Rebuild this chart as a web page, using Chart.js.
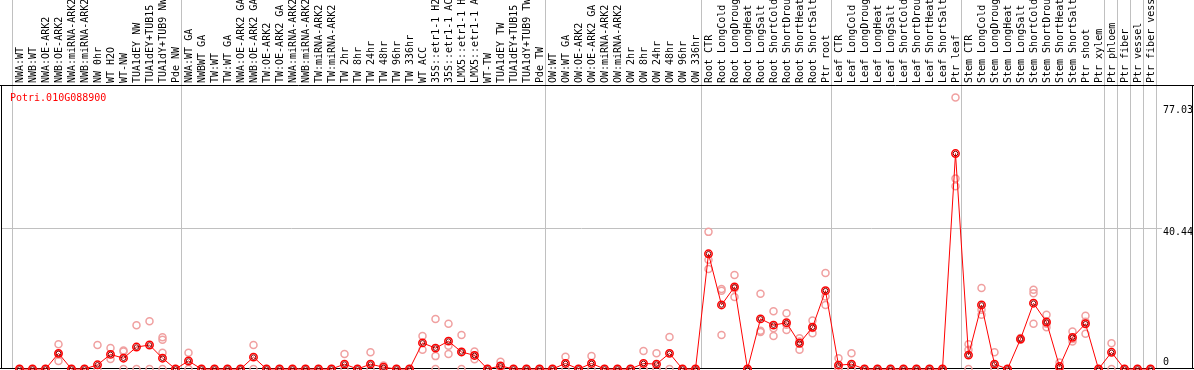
<!DOCTYPE html>
<html>
<head>
<meta charset="utf-8">
<script src="https://cdn.jsdelivr.net/npm/chart.js@4/dist/chart.umd.min.js"></script>
<style>
  html, body { margin: 0; padding: 0; background: #fff; }
</style>
</head>
<body>
<canvas id="myChart" width="1194" height="370"></canvas>
<script>
const geneId = 'Potri.010G088900'

const samples = [
    'NWA:WT', 'NWB:WT', 'NWA:OE-ARK2', 'NWB:OE-ARK2', 'NWA:miRNA-ARK2', 'NWB:miRNA-ARK2',
    'NW 0hr', 'WT H2O', 'WT-NW', 'TUA1dEY NW', 'TUA1dEY+TUB15 NW', 'TUA1dY+TUB9 NW', 'Pde NW',
    'NWA:WT GA', 'NWBWT GA', 'TW:WT', 'TW:WT GA', 'NWA:OE-ARK2 GA', 'NWB:OE-ARK2 GA',
    'TW:OE-ARK2', 'TW:OE-ARK2 GA', 'NWA:miRNA-ARK2', 'NWB:miRNA-ARK2', 'TW:miRNA-ARK2',
    'TW:miRNA-ARK2', 'TW 2hr', 'TW 8hr', 'TW 24hr', 'TW 48hr', 'TW 96hr', 'TW 336hr', 'WT ACC',
    '35S::etr1-1 H2O', '35S::etr1-1 ACC', 'LMX5::etr1-1 H2O', 'LMX5::etr1-1 ACC', 'WT-TW',
    'TUA1dEY TW', 'TUA1dEY+TUB15 TW', 'TUA1dY+TUB9 TW', 'Pde TW',
    'OW:WT', 'OW:WT GA', 'OW:OE-ARK2', 'OW:OE-ARK2 GA', 'OW:miRNA-ARK2', 'OW:miRNA-ARK2',
    'OW 2hr', 'OW 8hr', 'OW 24hr', 'OW 48hr', 'OW 96hr', 'OW 336hr',
    'Root CTR', 'Root LongCold', 'Root LongDrought', 'Root LongHeat', 'Root LongSalt',
    'Root ShortCold', 'Root ShortDrought', 'Root ShortHeat', 'Root ShortSalt', 'Ptr root',
    'Leaf CTR', 'Leaf LongCold', 'Leaf LongDrought', 'Leaf LongHeat', 'Leaf LongSalt',
    'Leaf ShortCold', 'Leaf ShortDrought', 'Leaf ShortHeat', 'Leaf ShortSalt', 'Ptr leaf',
    'Stem CTR', 'Stem LongCold', 'Stem LongDrought', 'Stem LongHeat', 'Stem LongSalt',
    'Stem ShortCold', 'Stem ShortDrought', 'Stem ShortHeat', 'Stem ShortSalt', 'Ptr shoot',
    'Ptr xylem', 'Ptr phloem', 'Ptr fiber', 'Ptr vessel', 'Ptr fiber vessel'
]

// first sample index of each experiment group (separator lines)
const groupStarts = [0, 13, 41, 53, 63, 73, 84, 85, 86, 87, 88]

const meanValues = [
    0, 0, 0, 4.5, 0, 0, 1.2, 4.2, 3.1, 6.3, 6.9, 3.1, 0,
    2.3, 0, 0, 0, 0, 3.4, 0, 0, 0, 0, 0, 0, 1.4, 0, 1.4, 0.5, 0, 0, 7.5,
    6.0, 8.0, 4.9, 3.9, 0, 0.9, 0, 0, 0,
    0, 1.6, 0, 1.6, 0, 0, 0, 1.6, 1.4, 4.5, 0, 0,
    33.1, 18.4, 23.6, 0, 14.4, 12.6, 13.3, 7.4, 12.0, 22.5,
    1.1, 1.4, 0, 0, 0, 0, 0, 0, 0, 61.9,
    4.0, 18.4, 1.4, 0, 8.6, 18.9, 13.5, 0.7, 9.1, 13.0,
    0, 4.8, 0, 0, 0
]

const replicates = [
    [0], [0], [0], [7.1, 2.3, 4.2], [0], [0], [6.9, 0], [6.0, 2.9], [5.3, 5.0, 0], [12.6, 0], [13.7, 0], [9.1, 8.4, 4.7, 0], [0],
    [4.7, 0], [0], [0], [0], [0], [6.9, 0], [0], [0], [0], [0], [0], [0], [4.3, 0], [0], [4.8, 0], [1.0, 0], [0], [0], [9.5, 5.5],
    [14.4, 3.7, 0], [13.0, 6.7, 4.3], [9.8, 4.9, 0], [5.0, 2.8, 3.9], [0], [2.1, 0], [0], [0], [0],
    [0], [3.5, 0], [0], [3.7, 0], [0], [0], [0], [5.2, 0, 0], [4.5, 0, 0], [9.2, 0], [0], [0],
    [39.4, 31.4, 28.7], [23.0, 22.5, 9.8], [27.0, 20.7, 23.1], [0], [21.6, 11.0, 10.6], [16.6, 9.5, 11.7],
    [16.0, 11.2, 12.7], [8.8, 5.5, 7.9], [13.9, 10.3, 11.8], [27.6, 20.8, 18.4],
    [3.1, 0, 0.3], [4.5, 0, 0], [0], [0], [0], [0], [0], [0], [0], [78.0, 54.7, 52.5],
    [7.1, 5.5, 0], [23.3, 17.0, 15.6], [4.8, 0, 0], [0], [8.9, 8.4, 8.6], [22.8, 21.8, 13.0], [15.6, 12.0, 13.0],
    [1.9, 0, 0.3], [10.8, 7.9, 8.6], [15.3, 10.1, 13.6],
    [0], [7.4, 0], [0], [0], [0]
]

const axisTicks = [0, 40.44, 77.03]
const yMax = 81.6

const font = { family: 'DejaVu Sans Mono', size: 10 }

// one dataset per replicate column
const repCount = Math.max(...replicates.map(r => r.length))
const repDatasets = []
for (let r = 0; r < repCount; r++) {
    repDatasets.push({
        data: replicates.map(v => v[r] === undefined ? null : v[r]),
        showLine: false,
        pointRadius: 3.5,
        pointBorderWidth: 1.5,
        pointBorderColor: '#f0a0a0',
        pointBackgroundColor: 'rgba(0,0,0,0)',
        clip: false
    })
}

const framePlugin = {
    id: 'frame',
    beforeDatasetsDraw(chart) {
        const ctx = chart.ctx
        const x = chart.scales.x
        const y = chart.scales.y
        const area = chart.chartArea
        ctx.save()
        ctx.lineWidth = 1
        ctx.strokeStyle = '#c0c0c0'
        ctx.beginPath()
        groupStarts.forEach(k => {
            const px = Math.round(x.getPixelForValue(k) - 8) + 0.5
            ctx.moveTo(px, 0)
            ctx.lineTo(px, area.bottom)
        })
        const gy = Math.round(y.getPixelForValue(axisTicks[1])) + 0.5
        ctx.moveTo(1, gy)
        ctx.lineTo(area.right + 5, gy)
        ctx.stroke()

        ctx.strokeStyle = '#000'
        ctx.beginPath()
        ctx.moveTo(0, area.top + 0.5)
        ctx.lineTo(chart.width, area.top + 0.5)
        ctx.moveTo(1.5, area.top)
        ctx.lineTo(1.5, area.bottom)
        ctx.moveTo(chart.width - 1.5, area.top)
        ctx.lineTo(chart.width - 1.5, area.bottom)
        ctx.moveTo(0, area.bottom - 0.5)
        ctx.lineTo(chart.width, area.bottom - 0.5)
        ctx.stroke()

        ctx.font = '10px "DejaVu Sans Mono"'
        ctx.fillStyle = '#ff0000'
        ctx.textBaseline = 'alphabetic'
        ctx.textAlign = 'left'
        ctx.fillText(geneId, 10, area.top + 16)

        ctx.fillStyle = '#000'
        const offsets = [-7, 4, 10]
        ctx.textBaseline = 'middle'
        axisTicks.forEach((v, i) => {
            ctx.fillText(String(v), area.right + 6, y.getPixelForValue(v) + offsets[i])
        })
        ctx.restore()
    }
}

const config = {
    type: 'line',
    data: {
        labels: samples,
        datasets: [{
            data: meanValues,
            showLine: false,
            pointRadius: 2.3,
            pointBorderWidth: 1,
            pointBorderColor: '#800000',
            pointBackgroundColor: 'rgba(0,0,0,0)',
            clip: false
        }, {
            data: meanValues,
            borderColor: '#ff0000',
            borderWidth: 1,
            tension: 0,
            pointRadius: 3.7,
            pointBorderWidth: 1.5,
            pointBorderColor: '#ff0000',
            pointBackgroundColor: 'rgba(0,0,0,0)',
            clip: false
        }, ...repDatasets]
    },
    options: {
        responsive: false,
        animation: false,
        devicePixelRatio: 1,
        layout: {
            autoPadding: false,
            padding: { left: 13, right: 0, top: 0, bottom: 1 }
        },
        plugins: {
            legend: { display: false },
            tooltip: { enabled: false }
        },
        scales: {
            x: {
                position: 'top',
                offset: true,
                grid: { display: false, drawTicks: false },
                border: { display: false },
                ticks: {
                    autoSkip: false,
                    minRotation: 90,
                    maxRotation: 90,
                    padding: 2,
                    labelOffset: 13,
                    color: '#000',
                    font: font
                },
                afterFit(scale) { scale.height = 85 }
            },
            y: {
                position: 'right',
                min: 0,
                max: yMax,
                grid: { display: false },
                border: { display: false },
                ticks: { display: false },
                afterFit(scale) { scale.width = 37 }
            }
        }
    },
    plugins: [framePlugin]
}

const myChart = new Chart(document.getElementById('myChart'), config)
</script>
</body>
</html>
